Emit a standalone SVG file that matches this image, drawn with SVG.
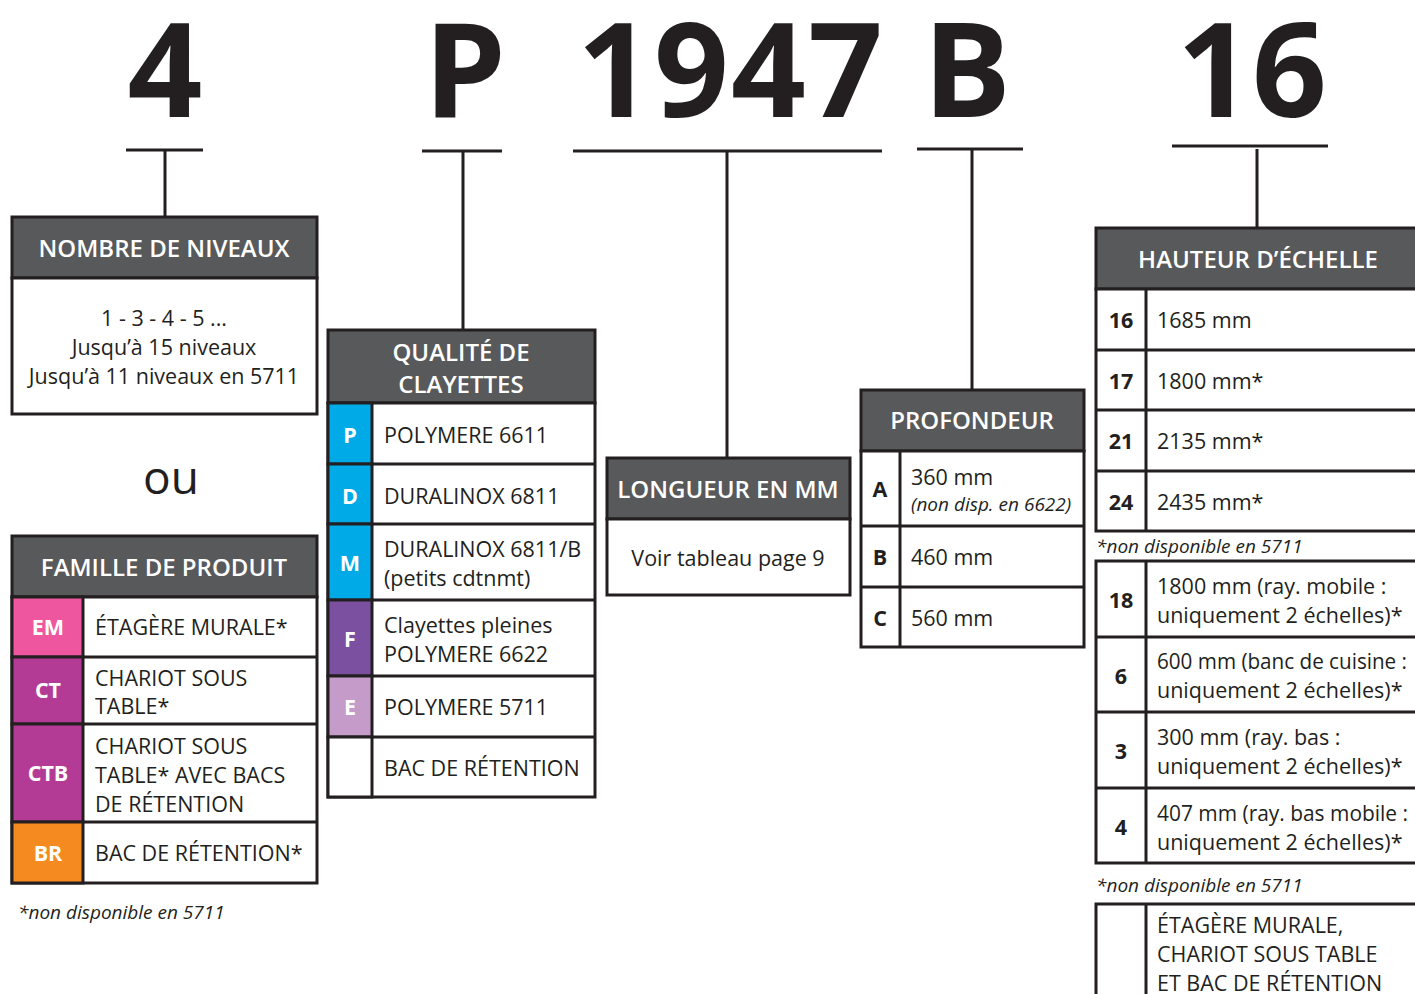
<svg xmlns="http://www.w3.org/2000/svg" width="1415" height="994" viewBox="0 0 1415 994">
<style>
.big{font-family:"Open Sans","Liberation Sans",sans-serif;font-weight:700;font-size:131px;fill:#231f20;text-anchor:middle}
.hdr{fill:#58595b;stroke:#231f20;stroke-width:3}
.box{fill:#fff;stroke:#231f20;stroke-width:3}
.ln{stroke:#231f20;stroke-width:3;fill:none}
.ht{font-family:"Open Sans","Liberation Sans",sans-serif;font-weight:600;font-size:24px;fill:#fff;text-anchor:middle}
.t{font-family:"Open Sans","Liberation Sans",sans-serif;font-size:21.5px;fill:#231f20}
.tc{font-family:"Open Sans","Liberation Sans",sans-serif;font-size:21.5px;fill:#231f20;text-anchor:middle}
.c{font-family:"Open Sans","Liberation Sans",sans-serif;font-weight:700;font-size:21.5px;fill:#fff;text-anchor:middle}
.cb{font-family:"Open Sans","Liberation Sans",sans-serif;font-weight:700;font-size:21.5px;fill:#231f20;text-anchor:middle}
.it{font-family:"Open Sans","Liberation Sans",sans-serif;font-style:italic;font-size:19px;fill:#231f20}
</style>
<rect width="1415" height="994" fill="#fff"/>
<g id="code">
<text class="big" x="165" y="117">4</text>
<text class="big" x="465" y="117">P</text>
<text class="big" x="731" y="117" letter-spacing="2">1947</text>
<text class="big" x="967" y="117">B</text>
<text class="big" x="1252" y="117">16</text>
</g>
<g id="connectors">
<path class="ln" d="M126 150H203M165 150V217"/>
<path class="ln" d="M422 151H502M463 151V330"/>
<path class="ln" d="M573 151H882M727 151V458"/>
<path class="ln" d="M917 149H1023M972 149V390"/>
<path class="ln" d="M1172 146H1328M1257 149V228"/>
</g>
<g id="niveaux">
<rect class="hdr" x="12" y="217" width="305" height="61"/>
<text class="ht" x="164" y="257">NOMBRE DE NIVEAUX</text>
<rect class="box" x="12" y="278" width="305" height="136"/>
<text class="tc" x="164" y="326">1 - 3 - 4 - 5 ...</text>
<text class="tc" x="164" y="355">Jusqu’à 15 niveaux</text>
<text class="tc" x="164" y="384">Jusqu’à 11 niveaux en 5711</text>
</g>
<text id="ou" x="171" y="494" style="font-family:'Open Sans','Liberation Sans',sans-serif;font-size:46px;fill:#231f20;text-anchor:middle">ou</text>
<g id="famille">
<rect class="hdr" x="12" y="536" width="305" height="61"/>
<text class="ht" x="164" y="576">FAMILLE DE PRODUIT</text>
<rect class="box" x="12" y="597" width="305" height="286"/>
<rect x="12" y="597" width="71" height="60" fill="#ee579f" stroke="#231f20" stroke-width="3"/>
<rect x="12" y="657" width="71" height="67" fill="#b43b95" stroke="#231f20" stroke-width="3"/>
<rect x="12" y="724" width="71" height="98" fill="#b43b95" stroke="#231f20" stroke-width="3"/>
<rect x="12" y="822" width="71" height="61" fill="#f58a20" stroke="#231f20" stroke-width="3"/>
<path class="ln" d="M83 657H317M83 724H317M83 822H317"/>
<text class="c" x="48" y="635">EM</text>
<text class="c" x="48" y="698">CT</text>
<text class="c" x="48" y="781">CTB</text>
<text class="c" x="48" y="861">BR</text>
<text class="t" x="95" y="635">ÉTAGÈRE MURALE*</text>
<text class="t" x="95" y="686">CHARIOT SOUS</text>
<text class="t" x="95" y="714">TABLE*</text>
<text class="t" x="95" y="754">CHARIOT SOUS</text>
<text class="t" x="95" y="783">TABLE* AVEC BACS</text>
<text class="t" x="95" y="812">DE RÉTENTION</text>
<text class="t" x="95" y="861">BAC DE RÉTENTION*</text>
</g>
<text class="it" x="18" y="919">*non disponible en 5711</text>
<g id="qualite">
<rect class="hdr" x="328" y="330" width="267" height="73"/>
<text class="ht" x="461" y="361">QUALITÉ DE</text>
<text class="ht" x="461" y="393">CLAYETTES</text>
<rect class="box" x="328" y="403" width="267" height="394"/>
<rect x="328" y="403" width="44" height="61" fill="#00aae7" stroke="#231f20" stroke-width="3"/>
<rect x="328" y="464" width="44" height="60" fill="#00aae7" stroke="#231f20" stroke-width="3"/>
<rect x="328" y="524" width="44" height="76" fill="#00aae7" stroke="#231f20" stroke-width="3"/>
<rect x="328" y="600" width="44" height="76" fill="#7b50a0" stroke="#231f20" stroke-width="3"/>
<rect x="328" y="676" width="44" height="61" fill="#c59bc9" stroke="#231f20" stroke-width="3"/>
<rect x="328" y="737" width="44" height="60" fill="#fff" stroke="#231f20" stroke-width="3"/>
<path class="ln" d="M372 464H595M372 524H595M372 600H595M372 676H595M372 737H595"/>
<text class="c" x="350" y="443">P</text>
<text class="c" x="350" y="504">D</text>
<text class="c" x="350" y="571">M</text>
<text class="c" x="350" y="647">F</text>
<text class="c" x="350" y="715">E</text>
<text class="t" x="384" y="443">POLYMERE 6611</text>
<text class="t" x="384" y="504">DURALINOX 6811</text>
<text class="t" x="384" y="557">DURALINOX 6811/B</text>
<text class="t" x="384" y="586">(petits cdtnmt)</text>
<text class="t" x="384" y="633">Clayettes pleines</text>
<text class="t" x="384" y="662">POLYMERE 6622</text>
<text class="t" x="384" y="715">POLYMERE 5711</text>
<text class="t" x="384" y="776">BAC DE RÉTENTION</text>
</g>
<g id="longueur">
<rect class="hdr" x="607" y="458" width="243" height="61"/>
<text class="ht" x="728" y="498">LONGUEUR EN MM</text>
<rect class="box" x="607" y="519" width="243" height="76"/>
<text class="tc" x="728" y="566">Voir tableau page 9</text>
</g>
<g id="profondeur">
<rect class="hdr" x="861" y="390" width="223" height="61"/>
<text class="ht" x="972" y="429">PROFONDEUR</text>
<rect class="box" x="861" y="451" width="223" height="196"/>
<path class="ln" d="M900 451V647M861 526H1084M861 587H1084"/>
<text class="cb" x="880" y="497">A</text>
<text class="cb" x="880" y="565">B</text>
<text class="cb" x="880" y="626">C</text>
<text class="t" x="911" y="485">360 mm</text>
<text class="it" x="911" y="511">(non disp. en 6622)</text>
<text class="t" x="911" y="565">460 mm</text>
<text class="t" x="911" y="626">560 mm</text>
</g>
<g id="hauteur">
<rect class="hdr" x="1096" y="228" width="330" height="61"/>
<text class="ht" x="1258" y="268">HAUTEUR D’ÉCHELLE</text>
<rect class="box" x="1096" y="289" width="330" height="242"/>
<path class="ln" d="M1146 289V531M1096 350H1426M1096 410H1426M1096 471H1426"/>
<text class="cb" x="1121" y="328">16</text>
<text class="cb" x="1121" y="389">17</text>
<text class="cb" x="1121" y="449">21</text>
<text class="cb" x="1121" y="510">24</text>
<text class="t" x="1157" y="328">1685 mm</text>
<text class="t" x="1157" y="389">1800 mm*</text>
<text class="t" x="1157" y="449">2135 mm*</text>
<text class="t" x="1157" y="510">2435 mm*</text>
<text class="it" x="1096" y="553">*non disponible en 5711</text>
<rect class="box" x="1096" y="561" width="330" height="302"/>
<path class="ln" d="M1146 561V863M1096 637H1426M1096 712H1426M1096 788H1426"/>
<text class="cb" x="1121" y="608">18</text>
<text class="cb" x="1121" y="684">6</text>
<text class="cb" x="1121" y="759">3</text>
<text class="cb" x="1121" y="835">4</text>
<text class="t" x="1157" y="594">1800 mm (ray. mobile :</text>
<text class="t" x="1157" y="623">uniquement 2 échelles)*</text>
<text class="t" x="1157" y="669" textLength="250" lengthAdjust="spacingAndGlyphs">600 mm (banc de cuisine :</text>
<text class="t" x="1157" y="698">uniquement 2 échelles)*</text>
<text class="t" x="1157" y="745">300 mm (ray. bas :</text>
<text class="t" x="1157" y="774">uniquement 2 échelles)*</text>
<text class="t" x="1157" y="821" textLength="251" lengthAdjust="spacingAndGlyphs">407 mm (ray. bas mobile :</text>
<text class="t" x="1157" y="850">uniquement 2 échelles)*</text>
<text class="it" x="1096" y="892">*non disponible en 5711</text>
<rect class="box" x="1096" y="904" width="330" height="120"/>
<path class="ln" d="M1146 904V1000"/>
<text class="t" x="1157" y="933">ÉTAGÈRE MURALE,</text>
<text class="t" x="1157" y="962">CHARIOT SOUS TABLE</text>
<text class="t" x="1157" y="991">ET BAC DE RÉTENTION</text>
</g>
</svg>
